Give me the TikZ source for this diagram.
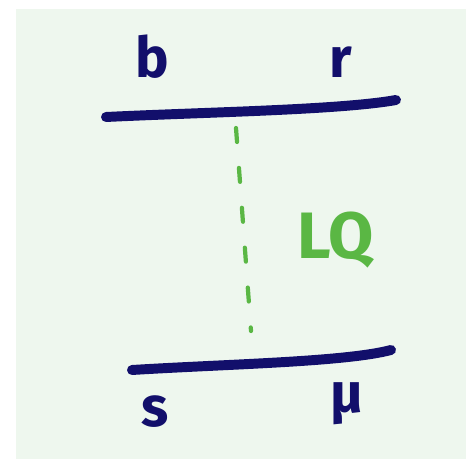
\documentclass[tikz,border=0pt]{standalone}
\usepackage{fontspec}
\setmainfont{Fira Sans}
\usetikzlibrary{positioning,calc}
\definecolor{Ink}{HTML}{120F6B}
\definecolor{Leaf}{HTML}{5AB744}
\definecolor{Paper}{HTML}{EEF7EE}

\begin{document}
\begin{tikzpicture}[x=0.03cm,y=-0.03cm,
  quark/.style={draw=Ink,line width=8.5pt,line cap=round},
  lq/.style={draw=Leaf,line width=3.6pt,line cap=round,dash pattern=on 0.42cm off 0.78cm},
  flav/.style={font=\fontsize{48}{52}\selectfont\bfseries,text=Ink,inner sep=0pt},
  lqtag/.style={font=\fontsize{56}{60}\selectfont\bfseries,text=Leaf,inner sep=0pt}]
\useasboundingbox (0,0) rectangle (466,460);
\fill[Paper] (16,9) rectangle (466,459);
% fermion lines
\draw[quark] (106,117) .. controls (210,112) and (340,110) .. (396,100);
\draw[quark] (132,370) .. controls (230,364) and (345,362) .. (391,350);
% leptoquark exchange
\coordinate (top) at (236,128);
\coordinate (bot) at (251,331);
\draw[lq] (top) -- (bot);
\node[flav] (b) at (152,57) {b};
\node[flav] (r) at (341,62) {r};
\node[flav] (s) at (155,412) {s};
\node[flav] (mu) at (347,404) {μ};
\node[lqtag] (LQ) at (336,240) {LQ};
\end{tikzpicture}
\end{document}
